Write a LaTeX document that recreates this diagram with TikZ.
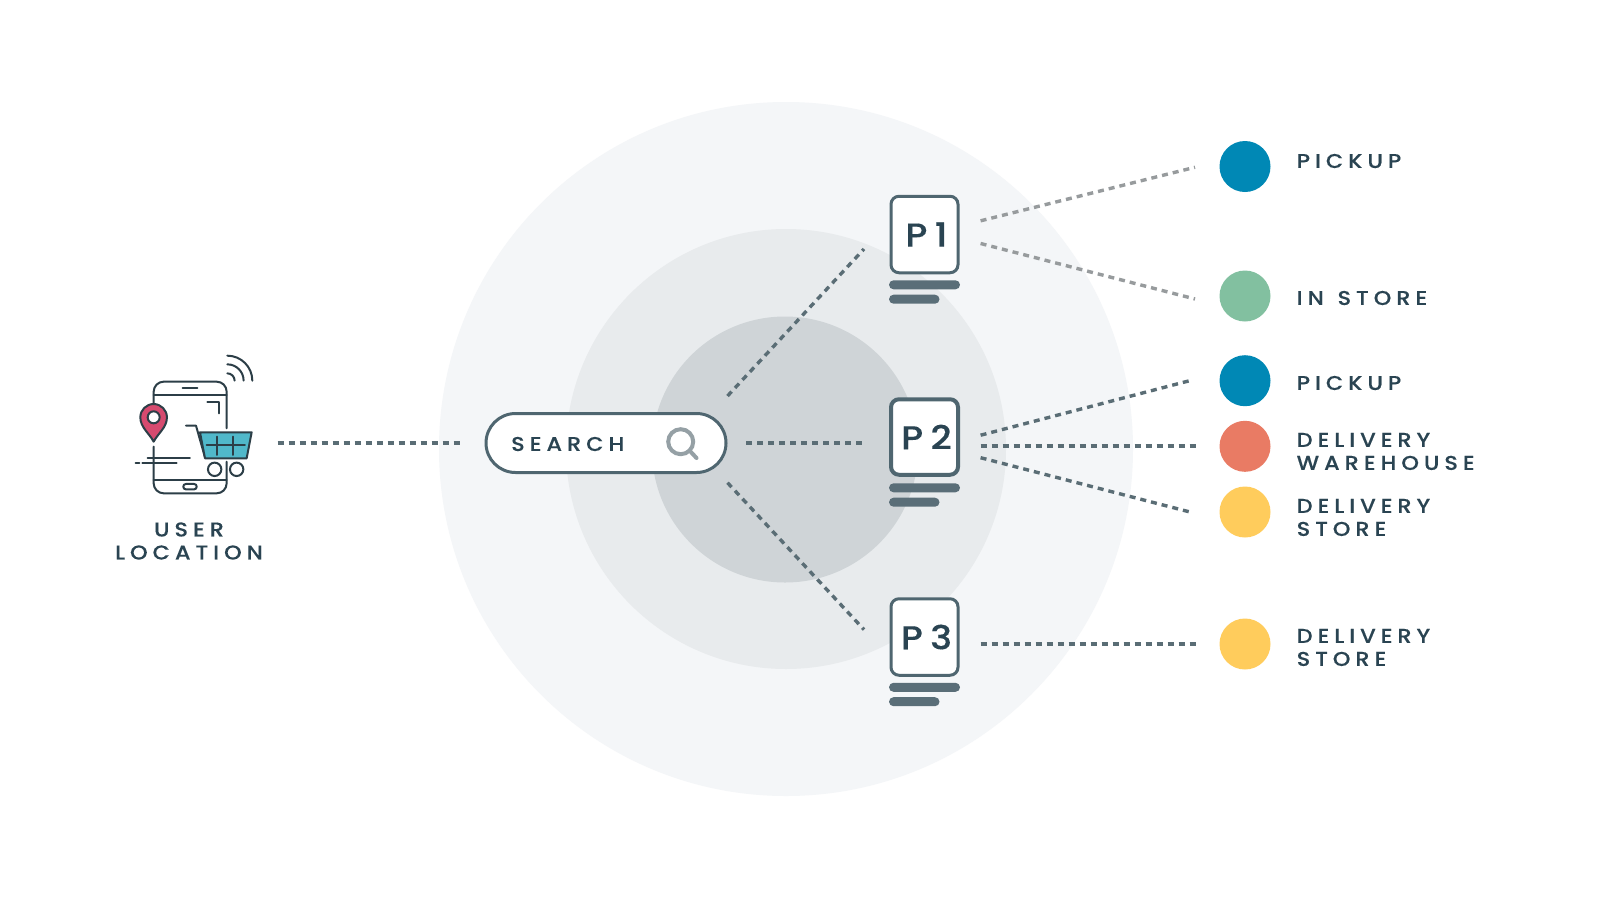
\documentclass[tikz,border=0pt]{standalone}
\usepackage{fontspec}
\newfontfamily\labfont[LetterSpace=25,FakeStretch=1.12,FakeBold=0.2]{Poppins Medium}
\newfontfamily\pfont[LetterSpace=22,FakeStretch=1.12,FakeBold=0.2]{Poppins Medium}
\definecolor{ink}{HTML}{2A4452}
\definecolor{edge}{HTML}{4F6670}
\definecolor{barc}{HTML}{5A6E78}
\definecolor{dashc}{HTML}{5A6D75}
\definecolor{dashg}{HTML}{979B9D}
\definecolor{ringa}{HTML}{F4F6F8}
\definecolor{ringb}{HTML}{E8EBED}
\definecolor{ringc}{HTML}{CFD4D7}
\definecolor{cblue}{HTML}{0088B5}
\definecolor{cgreen}{HTML}{82C0A0}
\definecolor{cred}{HTML}{E97B64}
\definecolor{cyellow}{HTML}{FFCC5C}
\definecolor{iconc}{HTML}{2C3E47}
\definecolor{pinc}{HTML}{D64A6F}
\definecolor{cartc}{HTML}{50B8CA}
\definecolor{lensc}{HTML}{95A0A5}
\tikzset{
  lab/.style={inner sep=0pt,anchor=west,align=left,text=ink,font=\labfont\fontsize{20}{23}\selectfont},
  link/.style={line width=3.4pt,dash pattern=on 6pt off 5pt,dashc},
  linkg/.style={link,dashg},
  dot/.style={circle,minimum size=51pt,inner sep=0pt},
  pbox/.style={draw=edge,line width=3pt,fill=white,rounded corners=8pt,minimum width=67pt,minimum height=76.5pt,inner sep=0pt,text=ink,font=\pfont\fontsize{33}{35}\selectfont},
  pboxb/.style={pbox,line width=4pt,minimum width=67pt,minimum height=75.5pt},
  barl/.style={fill=barc,rounded corners=4.5pt},
  ic/.style={line width=2pt,draw=iconc,line cap=round,line join=round},
}
\begin{document}
\begin{tikzpicture}[x=1pt,y=-1pt]
\useasboundingbox[fill=white] (0,0) rectangle (1600,900);
\fill[ringa] (786,449) circle[radius=347];
\fill[ringb] (786,449) circle[radius=220];
\fill[ringc] (785,449.5) circle[radius=133];

% search
\node (search) [draw=edge,line width=3pt,fill=white,rounded corners=29.5pt,minimum width=240pt,minimum height=59pt,inner sep=0pt] at (606,443) {};
\node (searchtxt) [lab] at (511,444) {SEARCH};
\draw[line width=4pt,lensc] (680.7,441.7) circle[radius=12.5];
\draw[line width=4pt,lensc,line cap=round] (689.5,450.5) -- (696.5,458);

% product boxes
\node (p1) [pbox] at (924.5,234.5) {\kern4pt P1};
\node (p2) [pboxb] at (924.5,437) {\kern4pt P2};
\node (p3) [pbox] at (924.5,637) {\kern4pt P3};
\foreach \b/\d in {p1/0,p2/203,p3/402.5}{
  \fill[barl] (889,280.3+\d) rectangle (960,289.3+\d);
  \fill[barl] (889,294.7+\d) rectangle (939.5,303.7+\d);
}

% result dots
\node (d1) [dot,fill=cblue] at (1245,166.5) {};
\node (d2) [dot,fill=cgreen] at (1245,296) {};
\node (d3) [dot,fill=cblue] at (1245,380.7) {};
\node (d4) [dot,fill=cred] at (1245,446.3) {};
\node (d5) [dot,fill=cyellow] at (1245,512) {};
\node (d6) [dot,fill=cyellow] at (1245,644) {};

\node (t1) [lab] at (1296.5,161) {PICKUP};
\node (t2) [lab] at (1296.5,298) {IN\kern3pt\ STORE};
\node (t3) [lab] at (1296.5,383) {PICKUP};
\node (t4) [lab] at (1296.5,451.5) {DELIVERY\\WAREHOUSE};
\node (t5) [lab] at (1296.5,517.5) {DELIVERY\\STORE};
\node (t6) [lab] at (1296.5,647.5) {DELIVERY\\STORE};

% connector ends
\coordinate (u0) at (277.5,443);
\coordinate (u1) at (460,443);
\coordinate (s0) at (746,443);
\coordinate (s1) at (862,443);
\coordinate (a0) at (727.5,396);
\coordinate (a1) at (864,249);
\coordinate (b0) at (727.5,482.7);
\coordinate (b1) at (864,629.6);
\coordinate (c0) at (980.6,220.8);
\coordinate (c1) at (1195,167.3);
\coordinate (c2) at (980.6,243.5);
\coordinate (c3) at (1195,299);
\coordinate (e0) at (980.6,435.2);
\coordinate (e1) at (1190,380.6);
\coordinate (e2) at (980.6,446);
\coordinate (e3) at (1196,446);
\coordinate (e4) at (980.6,457.7);
\coordinate (e5) at (1190,512);
\coordinate (f0) at (980.6,644);
\coordinate (f1) at (1196,644);

\draw[link] (u0) -- (u1);
\draw[link] (s0) -- (s1);
\draw[link] (a0) -- (a1);
\draw[link] (b0) -- (b1);
\draw[linkg] (c0) -- (c1);
\draw[linkg] (c2) -- (c3);
\draw[link] (e0) -- (e1);
\draw[link] (e2) -- (e3);
\draw[link] (e4) -- (e5);
\draw[link] (f0) -- (f1);

% user icon
\begin{scope}[shift={(110,340)},x=0.3333pt,y=-0.3333pt]
  \draw[ic] (131,190) -- (131,155) arc[start angle=180,end angle=90,radius=10pt] -- (320,125) arc[start angle=90,end angle=0,radius=10pt] -- (350,265);
  \draw[ic] (131,165) -- (350,165);
  \draw[ic] (218,145) -- (262,145);
  \draw[ic] (131,320) -- (131,430) arc[start angle=180,end angle=270,radius=10pt] -- (320,460) arc[start angle=270,end angle=360,radius=10pt] -- (350,365);
  \draw[ic] (131,420) -- (350,420);
  \draw[ic,rounded corners=2.5pt] (220,432) rectangle (260,448);
  \draw[ic] (292,185) -- (328,185) -- (328,220);
  \draw[ic] (113,354) -- (240,354);
  \draw[ic] (97,368) -- (200,368);
  \draw[ic] (77,368) -- (88,368);
  \draw[ic,fill=pinc] (131,305) .. controls (118,280) and (91,262) .. (91,232) arc[start angle=180,end angle=0,radius=13.3pt] .. controls (171,262) and (144,280) .. (131,305) -- cycle;
  \draw[ic,fill=white] (131,232) circle[radius=6pt];
  \draw[ic] (228,257) -- (258,257) -- (285,352);
  \draw[ic,fill=cartc] (270,277) -- (425,277) -- (410,355) -- (285,355) -- cycle;
  \draw[ic] (290,315) -- (405,315);
  \draw[ic] (322,290) -- (322,345);
  \draw[ic] (370,290) -- (370,345);
  \draw[ic,fill=white] (314,388) circle[radius=6.7pt];
  \draw[ic,fill=white] (380,388) circle[radius=6.7pt];
  \draw[ic] (352,47) arc[start angle=90,end angle=0,radius=25pt];
  \draw[ic] (352,73) arc[start angle=90,end angle=0,radius=16.3pt];
  \draw[ic] (352,100) arc[start angle=90,end angle=0,radius=7.3pt];
\end{scope}
\node (ul) [inner sep=0pt,align=center,text=ink,font=\labfont\fontsize{20}{23}\selectfont] at (189,541) {USER\\LOCATION};
\end{tikzpicture}
\end{document}
